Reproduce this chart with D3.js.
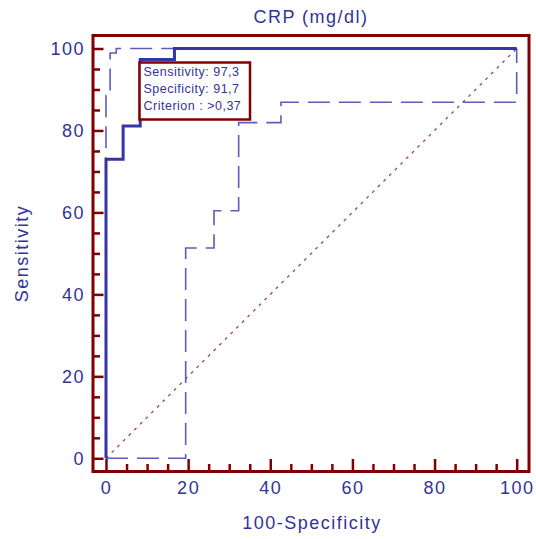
<!DOCTYPE html>
<html>
<head>
<meta charset="utf-8">
<script src="https://cdn.jsdelivr.net/npm/d3@7"></script>
<style>
  html, body { margin: 0; padding: 0; background: #ffffff; }
  svg { display: block; }
  text { font-family: "Liberation Sans", Arial, sans-serif; }
</style>
</head>
<body>
<svg id="chart" width="536" height="539"></svg>
<script>
// ---- data ----
const chartTitle = "CRP (mg/dl)";
const xLabel = "100-Specificity";
const yLabel = "Sensitivity";
const majorTicks = [0, 20, 40, 60, 80, 100];
const minorTicks = [5, 10, 15, 25, 30, 35, 45, 50, 55, 65, 70, 75, 85, 90, 95];

// ROC curve (step vertices)
const rocFPR  = [0, 0,    4.17, 4.17, 8.33, 8.33, 16.67, 16.67, 100];
const rocSens = [0, 73.0, 73.0, 81.1, 81.1, 97.3, 97.3,  100,   100];

// upper confidence bound
const upperFPR  = [0, 0,    1,    1,    2.5,  2.5, 100];
const upperSens = [0, 88.5, 88.5, 98.9, 98.9, 100, 100];

// lower confidence bound
const lowerFPR  = [0, 19.4, 19.4, 26.3, 26.3, 32.3, 32.3, 42.6, 42.6, 100,  100];
const lowerSens = [0, 0,    51.3, 51.3, 60.4, 60.4, 81.9, 81.9, 86.9, 86.9, 100];

// reference diagonal
const diagFPR  = [0, 100];
const diagSens = [0, 100];

const infoLines = ["Sensitivity: 97,3", "Specificity: 91,7", "Criterion : >0,37"];

// ---- drawing ----
const svg = d3.select("#chart");
const frame = { left: 93, right: 529, top: 35.5, bottom: 471.5 };
const x = d3.scaleLinear().domain([0, 100]).range([106, 516.7]);
const y = d3.scaleLinear().domain([0, 100]).range([458.3, 48.5]);

const red = "#800000";
const blue = "#333399";

// frame
svg.append("rect")
  .attr("x", frame.left).attr("y", frame.top)
  .attr("width", frame.right - frame.left)
  .attr("height", frame.bottom - frame.top)
  .attr("fill", "none").attr("stroke", red).attr("stroke-width", 3);

function styleAxis(g) {
  g.select(".domain").remove();
  g.selectAll(".tick line").attr("stroke", red).attr("stroke-width", 2.5);
  g.selectAll(".tick text")
    .attr("fill", blue)
    .style("font-size", "18px")
    .style("letter-spacing", "1.5px")
    .attr("font-family", "Liberation Sans, Arial, sans-serif");
}

// y axis
const yMajor = svg.append("g").attr("transform", `translate(${frame.left},0)`)
  .call(d3.axisLeft(y).tickValues(majorTicks).tickSize(-10.5).tickPadding(8).tickFormat(d3.format("d")));
styleAxis(yMajor);
yMajor.selectAll(".tick text").attr("dy", "0.34em");
const yMinor = svg.append("g").attr("transform", `translate(${frame.left},0)`)
  .call(d3.axisLeft(y).tickValues(minorTicks).tickSize(-7).tickFormat(""));
styleAxis(yMinor);

// x axis
const xMajor = svg.append("g").attr("transform", `translate(0,${frame.bottom})`)
  .call(d3.axisBottom(x).tickValues(majorTicks).tickSize(-12.5).tickPadding(10).tickFormat(d3.format("d")));
styleAxis(xMajor);
xMajor.selectAll(".tick text").attr("dy", "0.71em");
const xMinor = svg.append("g").attr("transform", `translate(0,${frame.bottom})`)
  .call(d3.axisBottom(x).tickValues(minorTicks).tickSize(-7.5).tickFormat(""));
styleAxis(xMinor);

const line = d3.line().x(d => x(d[0])).y(d => y(d[1]));
const zip = (a, b) => a.map((v, i) => [v, b[i]]);

// diagonal
svg.append("path")
  .datum(zip(diagFPR, diagSens))
  .attr("d", line)
  .attr("fill", "none").attr("stroke", "#a04545").attr("stroke-width", 1.3)
  .attr("stroke-dasharray", "3,5");

// confidence bounds
[zip(upperFPR, upperSens), zip(lowerFPR, lowerSens)].forEach(pts => {
  svg.append("path")
    .datum(pts)
    .attr("d", line)
    .attr("fill", "none").attr("stroke", "#5c5cbd").attr("stroke-width", 1.6)
    .attr("stroke-dasharray", "22,9");
});

// ROC curve
svg.append("path")
  .datum(zip(rocFPR, rocSens))
  .attr("d", line)
  .attr("fill", "none").attr("stroke", "#3535a5").attr("stroke-width", 3)
  .attr("stroke-linejoin", "miter");

// info box
const box = svg.append("g");
box.append("rect")
  .attr("x", 139.5).attr("y", 62.5).attr("width", 110.5).attr("height", 57)
  .attr("fill", "#ffffff").attr("stroke", red).attr("stroke-width", 2.5);
box.selectAll("text.info").data(infoLines).join("text")
  .attr("class", "info")
  .attr("x", 143.5)
  .attr("y", (d, i) => 75.7 + i * 17.1)
  .attr("fill", blue)
  .style("font-size", "12.5px")
  .style("letter-spacing", "0.5px")
  .text(d => d);

// title
svg.append("text")
  .attr("x", 311).attr("y", 22.5)
  .attr("text-anchor", "middle")
  .attr("fill", blue)
  .style("font-size", "18px")
  .style("letter-spacing", "1.5px")
  .text(chartTitle);

// x label
svg.append("text")
  .attr("x", 312).attr("y", 529)
  .attr("text-anchor", "middle")
  .attr("fill", blue)
  .style("font-size", "18px")
  .style("letter-spacing", "1.5px")
  .text(xLabel);

// y label
svg.append("text")
  .attr("transform", "translate(27.5,253.5) rotate(-90)")
  .attr("text-anchor", "middle")
  .attr("fill", blue)
  .style("font-size", "18px")
  .style("letter-spacing", "1.5px")
  .text(yLabel);
</script>
</body>
</html>
